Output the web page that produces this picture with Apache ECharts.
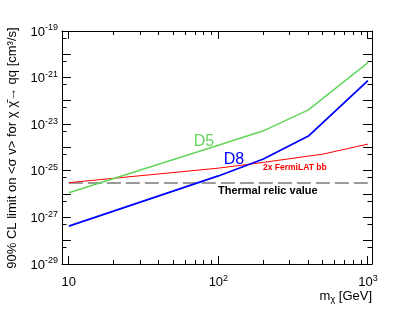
<!DOCTYPE html>
<html><head><meta charset="utf-8">
<script src="https://cdn.jsdelivr.net/npm/echarts@6/dist/echarts.min.js"></script>
<style>html,body{margin:0;padding:0;background:#fff}#c{width:415px;height:311px}</style>
</head><body><div id="c"></div>
<script>
// ---- data ----
const massD = [10, 100, 200, 400, 1000];
const d5 = [1.15e-26, 1.26e-24, 5.2e-24, 4.1e-23, 4.4e-21];
const d8 = [4.2e-28, 6.0e-26, 3.2e-25, 3.1e-24, 7.4e-22];
const massFermi = [10, 100, 200, 500, 1000];
const fermi2x = [3.1e-26, 1.3e-25, 2.3e-25, 5.2e-25, 1.4e-24];
const massRelic = [10, 1000];
const relic = [3e-26, 3e-26];
// ---- ticks ----
const xMajor = [10, 100, 1000];
const xMinor = [20, 30, 40, 50, 60, 70, 80, 90, 200, 300, 400, 500, 600, 700, 800, 900];
const yMajor = [1e-29, 1e-28, 1e-27, 1e-26, 1e-25, 1e-24, 1e-23, 1e-22, 1e-21, 1e-20, 1e-19];
const yLabelVals = [1e-29, 1e-27, 1e-25, 1e-23, 1e-21, 1e-19];
const yMinor = [5e-29, 5e-28, 5e-27, 5e-26, 5e-25, 5e-24, 5e-23, 5e-22, 5e-21, 5e-20];

const X_MIN = 9, X_MAX = 1065, Y_MIN = 1e-29, Y_MAX = 1e-19;
const FONT = 'Liberation Sans, Arial, Helvetica, sans-serif';
const rich = {
  b: {fontSize: 13, lineHeight: 15, verticalAlign: 'bottom', color: '#000', fontFamily: FONT},
  s: {fontSize: 9, lineHeight: 9, verticalAlign: 'top', color: '#000', fontFamily: FONT}
};
function powLabel(v) {
  const e = Math.round(Math.log10(v));
  if (e === 1) return '{b|10}';
  return '{b|10}{s|' + e + '}';
}
const lineCol = {color: '#000', width: 1};

function xAx(pos, withLabel) {
  return {
    type: 'log', logBase: 10, min: X_MIN, max: X_MAX, position: pos, gridIndex: 0,
    axisLine: {show: true, onZero: false, lineStyle: lineCol},
    axisTick: {show: false},
    axisLabel: withLabel ? {show: true, customValues: xMajor, margin: 10, formatter: powLabel, rich: rich} : {show: false},
    splitLine: {show: false}, minorTick: {show: false}
  };
}
function yAx(pos, withLabel) {
  return {
    type: 'log', logBase: 10, min: Y_MIN, max: Y_MAX, position: pos, gridIndex: 0,
    axisLine: {show: true, onZero: false, lineStyle: lineCol},
    axisTick: {show: false},
    axisLabel: withLabel ? {show: true, customValues: yLabelVals, margin: 4, formatter: powLabel, rich: rich} : {show: false},
    splitLine: {show: false}, minorTick: {show: false}
  };
}
function pairs(xs, ys) { return xs.map((x, i) => [x, ys[i]]); }

const xTickData = xMajor.map(v => [v, Y_MIN, 8]).concat(xMinor.map(v => [v, Y_MIN, 4]));
const yTickData = yMajor.map(v => [X_MIN, v, 9]).concat(yMinor.map(v => [X_MIN, v, 4.5]));
const tickStyle = {stroke: '#000', lineWidth: 1};
function crisp(p) { return Math.round(p - 0.5) + 0.5; }

function renderXTick(params, api) {
  const v = api.value(0), len = api.value(2);
  const b = api.coord([v, Y_MIN]), t = api.coord([v, Y_MAX]);
  const x = crisp(b[0]);
  return {type: 'group', children: [
    {type: 'line', shape: {x1: x, y1: b[1], x2: x, y2: b[1] - len}, style: tickStyle},
    {type: 'line', shape: {x1: x, y1: t[1], x2: x, y2: t[1] + len}, style: tickStyle}
  ]};
}
function renderYTick(params, api) {
  const v = api.value(1), len = api.value(2);
  const l = api.coord([X_MIN, v]), r = api.coord([X_MAX, v]);
  const y = crisp(l[1]);
  return {type: 'group', children: [
    {type: 'line', shape: {x1: l[0], y1: y, x2: l[0] + len, y2: y}, style: tickStyle},
    {type: 'line', shape: {x1: r[0], y1: y, x2: r[0] - len, y2: y}, style: tickStyle}
  ]};
}

const chart = echarts.init(document.getElementById('c'), null, {renderer: 'canvas'});
chart.setOption({
  animation: false,
  backgroundColor: '#fff',
  grid: {left: 62, top: 31, width: 310, height: 233, containLabel: false},
  xAxis: [xAx('bottom', true), xAx('top', false)],
  yAxis: [yAx('left', true), yAx('right', false)],
  series: [
    {type: 'custom', name: 'xticks', data: xTickData, renderItem: renderXTick, encode: {x: 0, y: 1},
     clip: false, silent: true, z: 10},
    {type: 'custom', name: 'yticks', data: yTickData, renderItem: renderYTick, encode: {x: 0, y: 1},
     clip: false, silent: true, z: 10},
    {type: 'line', name: 'Thermal relic', data: pairs(massRelic, relic), showSymbol: false, symbol: 'none',
     lineStyle: {color: '#9a9a9a', width: 2, type: [14, 5]}, z: 2},
    {type: 'line', name: '2x FermiLAT bb', data: pairs(massFermi, fermi2x), showSymbol: false, symbol: 'none',
     lineStyle: {color: '#ff0000', width: 1}, z: 3},
    {type: 'line', name: 'D5', data: pairs(massD, d5), showSymbol: false, symbol: 'none',
     lineStyle: {color: '#62d65a', width: 1.5}, z: 4},
    {type: 'line', name: 'D8', data: pairs(massD, d8), showSymbol: false, symbol: 'none',
     lineStyle: {color: '#0000ff', width: 1.8}, z: 5}
  ],
  graphic: [
    {type: 'text', x: 12, y: 148, rotation: Math.PI / 2,
     style: {text: '90% CL limit on <σ v> for χ χ\u0304\u2192 qq [cm\u00b3/s]', font: '13px ' + FONT, fill: '#000', align: 'center', verticalAlign: 'middle'}},
    {type: 'text', x: 372, y: 297,
     style: {text: '{m|m}{u|χ}{t| [GeV]}', align: 'right', verticalAlign: 'middle',
       rich: {m: {fontSize: 13, lineHeight: 14, verticalAlign: 'top', fontFamily: FONT, fill: '#000'},
              u: {fontSize: 9, lineHeight: 9, padding: [7, 0, 0, 0], verticalAlign: 'bottom', fontFamily: FONT, fill: '#000'},
              t: {fontSize: 13, lineHeight: 14, verticalAlign: 'top', fontFamily: FONT, fill: '#000'}}}},
    {type: 'text', x: 204, y: 142, style: {text: 'D5', font: '16px ' + FONT, fill: '#62d65a', align: 'center', verticalAlign: 'middle'}},
    {type: 'text', x: 234, y: 160, style: {text: 'D8', font: '16px ' + FONT, fill: '#0000ff', align: 'center', verticalAlign: 'middle'}},
    {type: 'text', x: 263, y: 168, style: {text: '2x FermiLAT bb', font: 'bold 8.5px ' + FONT, fill: '#ff0000', align: 'left', verticalAlign: 'middle'}},
    {type: 'text', x: 218, y: 191, style: {text: 'Thermal relic value', font: 'bold 11px ' + FONT, fill: '#000', align: 'left', verticalAlign: 'middle'}}
  ]
});
</script></body></html>
